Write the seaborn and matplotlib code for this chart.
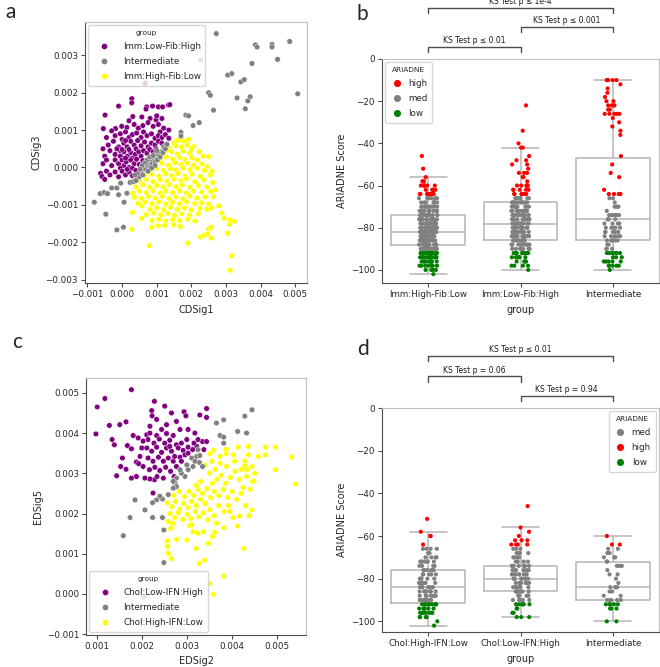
"""Recreate the four-panel CDSig/EDSig scatter and ARIADNE score box/strip figure."""

import matplotlib
matplotlib.use("Agg")
import matplotlib.pyplot as plt
import numpy as np
import pandas as pd
import seaborn as sns

# ---------------- panel a: CDSig1 vs CDSig3 (units of 1e-3) ----------------
a_low_fib_high = [
    (0.28, 1.84), (0.28, 1.73), (1.05, 1.62), (1.34, 1.67), (1.38, 1.68), (0.71, 1.62),
    (0.88, 1.64), (1.17, 1.62), (-0.10, 1.64), (0.69, 1.56), (-0.49, 1.40), (0.31, 1.36),
    (0.57, 1.35), (0.81, 1.31), (0.98, 1.27), (1.15, 1.31), (0.20, 1.25), (1.00, 1.38),
    (-0.54, 1.04), (-0.19, 1.04), (-0.01, 1.10), (0.14, 1.07), (0.35, 1.15), (0.47, 1.05),
    (0.60, 1.12), (0.75, 1.20), (0.90, 1.10), (1.05, 1.15), (1.20, 1.05), (1.35, 1.00),
    (1.10, 0.95), (-0.45, 0.80), (-0.20, 0.85), (-0.05, 0.90), (0.10, 0.95), (0.20, 0.80),
    (0.30, 0.88), (0.42, 0.92), (0.55, 0.80), (0.62, 0.95), (0.72, 0.85), (0.85, 0.90),
    (0.95, 0.78), (1.05, 0.85), (1.15, 0.80), (1.25, 0.88), (1.35, 0.78), (-0.30, 0.98),
    (0.00, 0.75), (-0.55, 0.50), (-0.40, 0.60), (-0.25, 0.70), (-0.10, 0.55), (0.05, 0.65),
    (0.15, 0.55), (0.25, 0.70), (0.35, 0.60), (0.45, 0.72), (0.55, 0.58), (0.65, 0.68),
    (0.75, 0.55), (0.85, 0.65), (0.95, 0.60), (1.05, 0.70), (1.15, 0.65), (1.25, 0.60),
    (0.40, 0.50), (0.10, 0.72), (-0.05, 0.45), (-0.50, 0.30), (-0.35, 0.45), (-0.20, 0.35),
    (-0.05, 0.30), (0.05, 0.42), (0.15, 0.30), (0.25, 0.40), (0.30, 0.25), (0.38, 0.35),
    (0.48, 0.42), (0.55, 0.30), (0.62, 0.45), (0.72, 0.38), (0.80, 0.48), (0.90, 0.42),
    (0.98, 0.50), (0.00, 0.48), (0.20, 0.48), (-0.15, 0.50), (-0.55, 0.10), (-0.45, 0.20),
    (-0.30, 0.05), (-0.20, 0.20), (-0.10, 0.10), (0.00, 0.20), (0.05, 0.05), (0.12, 0.15),
    (0.20, 0.00), (0.25, 0.20), (0.35, 0.10), (0.42, 0.22), (0.50, 0.08), (0.60, 0.18),
    (0.10, 0.25), (-0.05, -0.02), (0.30, -0.02), (-0.62, -0.16), (-0.58, -0.24),
    (-0.45, -0.10), (-0.35, -0.20), (-0.20, -0.12), (-0.10, -0.25), (0.00, -0.10),
    (0.10, -0.20), (0.20, -0.12), (0.30, -0.22), (0.40, -0.08), (0.45, -0.18),
    (-0.50, -0.32), (0.15, -0.05), (0.67, 2.25),
]
a_intermediate = [
    (2.72, 3.58), (2.27, 2.88), (3.85, 3.28), (3.90, 3.22), (4.33, 3.29), (4.33, 3.22),
    (4.84, 3.37), (4.49, 2.89), (5.07, 1.97), (3.75, 2.78), (3.05, 2.47), (3.17, 2.51),
    (3.43, 2.29), (3.53, 2.35), (2.50, 2.00), (2.55, 1.93), (3.32, 1.86), (3.70, 1.89),
    (3.63, 1.78), (3.56, 1.57), (2.64, 1.53), (1.84, 1.40), (1.92, 1.38), (2.23, 1.20),
    (2.05, 1.12), (1.70, 0.94), (1.70, 0.84), (1.29, 0.60), (1.24, 0.51),
    (-0.80, -0.93), (-0.63, -0.70), (-0.52, -0.67), (-0.42, -0.70), (-0.47, -1.25),
    (-0.30, -0.55), (-0.15, -0.55), (-0.10, -0.73), (0.14, -0.69), (0.06, -0.93),
    (-0.15, -1.67), (0.04, -1.60), (-0.04, -0.42), (0.23, -0.40), (0.33, -0.38),
    (0.50, -0.25), (0.55, -0.10), (0.60, -0.20), (0.62, 0.00), (0.68, -0.05), (0.70, 0.10),
    (0.75, 0.05), (0.78, 0.15), (0.82, 0.02), (0.85, 0.20), (0.88, 0.10), (0.92, 0.25),
    (0.95, 0.15), (1.00, 0.30), (1.02, 0.20), (1.05, 0.35), (1.10, 0.28), (1.12, 0.42),
    (1.18, 0.40), (1.20, 0.55), (1.25, 0.50), (1.30, 0.62), (0.72, 0.20), (0.65, 0.12),
    (0.80, 0.28), (0.90, 0.32), (0.58, 0.05), (0.52, -0.05), (1.00, 0.45), (0.95, 0.05),
    (0.85, -0.02), (0.75, -0.10), (0.40, -0.35), (0.38, -0.20),
]
a_high_fib_low = [
    (1.49, 0.66), (1.68, 0.75), (1.92, 0.75), (1.58, 0.72), (1.80, 0.70),
    (1.35, 0.52), (1.55, 0.58), (1.72, 0.55), (1.88, 0.60), (2.06, 0.56), (2.00, 0.48),
    (1.20, 0.38), (1.42, 0.42), (1.60, 0.36), (1.76, 0.44), (1.95, 0.38), (2.23, 0.42),
    (1.30, 0.46), (1.10, 0.24), (1.28, 0.28), (1.46, 0.22), (1.66, 0.27), (1.82, 0.21),
    (2.02, 0.26), (2.16, 0.20), (2.50, 0.29), (2.35, 0.30), (0.96, 0.08), (1.15, 0.12),
    (1.34, 0.06), (1.52, 0.13), (1.70, 0.08), (1.88, 0.12), (2.06, 0.06), (2.30, 0.10),
    (2.45, 0.02), (0.82, -0.05), (1.00, -0.02), (1.20, -0.08), (1.40, -0.03), (1.56, -0.07),
    (1.76, -0.02), (1.96, -0.06), (2.16, -0.02), (2.38, -0.08), (2.60, -0.10),
    (0.66, -0.22), (0.86, -0.18), (1.06, -0.24), (1.26, -0.17), (1.44, -0.22), (1.62, -0.16),
    (1.82, -0.23), (2.02, -0.18), (2.26, -0.24), (2.55, -0.20), (0.50, -0.36), (0.70, -0.32),
    (0.90, -0.38), (1.10, -0.33), (1.30, -0.37), (1.50, -0.31), (1.70, -0.36), (1.86, -0.30),
    (2.10, -0.38), (2.36, -0.33), (2.62, -0.40), (0.40, -0.52), (0.60, -0.47), (0.80, -0.53),
    (1.00, -0.48), (1.18, -0.52), (1.36, -0.46), (1.56, -0.51), (1.74, -0.47), (1.96, -0.53),
    (2.20, -0.48), (2.45, -0.52), (2.69, -0.60), (0.31, -0.69), (0.50, -0.63), (0.70, -0.67),
    (0.90, -0.62), (1.10, -0.68), (1.26, -0.63), (1.46, -0.67), (1.66, -0.62), (1.86, -0.68),
    (2.06, -0.63), (2.30, -0.66), (2.56, -0.64), (0.36, -0.80), (0.56, -0.83), (0.76, -0.78),
    (0.96, -0.82), (1.16, -0.77), (1.36, -0.83), (1.56, -0.79), (1.76, -0.84), (1.96, -0.77),
    (2.16, -0.82), (2.40, -0.79), (2.64, -0.78), (0.46, -0.96), (0.66, -0.93), (0.86, -0.97),
    (1.06, -0.92), (1.26, -0.98), (1.46, -0.93), (1.66, -0.97), (1.86, -0.92), (2.10, -0.97),
    (2.30, -0.94), (2.50, -0.98), (2.79, -1.03), (0.57, -1.03), (0.80, -1.12), (1.00, -1.08),
    (1.20, -1.13), (1.40, -1.07), (1.60, -1.12), (1.80, -1.08), (2.00, -1.13), (2.25, -1.10),
    (2.45, -1.12), (2.58, -1.08), (0.30, -1.20), (0.70, -1.26), (0.92, -1.22), (1.12, -1.27),
    (1.32, -1.23), (1.52, -1.28), (1.72, -1.24), (1.95, -1.28), (2.20, -1.24), (2.88, -1.22),
    (0.57, -1.36), (0.86, -1.42), (1.06, -1.38), (1.26, -1.43), (1.46, -1.39), (1.66, -1.42),
    (1.90, -1.38), (2.10, -1.43), (2.95, -1.36), (3.12, -1.40), (3.24, -1.44),
    (0.86, -1.60), (1.05, -1.56), (1.24, -1.55), (1.49, -1.53), (1.68, -1.58), (0.28, -1.65),
    (0.79, -2.09), (1.90, -2.02), (2.26, -1.86), (2.37, -1.81), (2.47, -1.78), (2.50, -1.65),
    (2.57, -1.60), (2.57, -1.89), (3.05, -1.76), (3.12, -2.75), (3.17, -2.36), (3.10, -1.52),
]

# ---------------- panel c: EDSig2 vs EDSig5 (units of 1e-3) ----------------
c_low_ifn_high = [
    (1.00, 4.65), (1.17, 4.86), (1.76, 5.08), (0.97, 3.98), (1.27, 4.19), (1.50, 4.21),
    (1.64, 4.28), (1.33, 3.84), (1.38, 3.71), (1.43, 2.94), (1.52, 3.17), (1.64, 3.10),
    (1.56, 3.38), (1.67, 3.69), (1.76, 3.61), (1.87, 3.28), (1.92, 3.24), (1.99, 3.63),
    (2.27, 4.79), (2.21, 4.56), (2.22, 4.43), (2.50, 4.67), (2.65, 4.50), (2.93, 4.53),
    (2.97, 4.43), (3.28, 4.45), (3.43, 4.61), (3.43, 4.39), (2.24, 2.51), (2.71, 2.92),
    (2.27, 2.84), (2.17, 2.86), (2.06, 2.88), (3.34, 3.79), (3.43, 3.79), (3.21, 3.67),
    (3.37, 3.59), (2.10, 3.96), (2.17, 4.00), (2.32, 3.94), (2.43, 4.09), (2.54, 3.99),
    (2.69, 3.94), (2.84, 4.09), (3.02, 4.09), (2.13, 3.84), (2.26, 3.75), (2.38, 3.85),
    (2.50, 3.75), (2.61, 3.82), (2.76, 3.71), (2.87, 3.75), (2.99, 3.84), (2.10, 3.63),
    (2.21, 3.55), (2.32, 3.65), (2.43, 3.52), (2.54, 3.63), (2.65, 3.55), (2.80, 3.63),
    (2.91, 3.57), (3.02, 3.65), (3.12, 3.59), (2.13, 3.38), (2.24, 3.30), (2.36, 3.40),
    (2.47, 3.30), (2.58, 3.38), (2.69, 3.30), (2.84, 3.40), (2.95, 3.46), (2.02, 3.17),
    (2.16, 3.09), (2.28, 3.15), (2.39, 3.07), (2.52, 3.15), (2.63, 3.05), (2.76, 3.17),
    (1.95, 3.42), (2.02, 3.80), (1.91, 3.88), (1.80, 3.94), (1.87, 2.92), (1.76, 2.88),
    (2.33, 2.92), (2.47, 2.88), (2.61, 3.67), (2.72, 3.42), (2.87, 3.30), (3.02, 3.50),
    (3.15, 3.75), (3.24, 3.84), (3.17, 4.00), (2.32, 4.34), (2.54, 4.21), (2.76, 4.29),
    (2.17, 4.17),
]
c_intermediate = [
    (4.12, 4.04), (4.32, 4.00), (4.28, 4.42), (4.44, 4.58), (3.65, 4.25), (3.81, 4.33),
    (3.73, 3.94), (3.81, 3.90), (3.81, 3.75), (3.10, 3.38), (3.21, 3.42), (3.27, 3.27),
    (3.34, 3.17), (3.13, 3.17), (3.02, 3.09), (2.95, 2.92), (2.87, 3.00), (2.76, 2.88),
    (2.73, 2.76), (2.76, 2.67), (2.69, 2.63), (2.58, 2.47), (2.45, 2.36), (2.32, 2.34),
    (2.23, 2.27), (2.06, 2.09), (1.84, 2.34), (2.23, 1.90), (2.45, 1.90), (1.73, 1.90),
    (1.58, 1.45), (2.48, 1.59), (2.48, 0.78), (2.04, -0.07), (3.17, 3.30), (3.28, 3.44),
    (2.99, 3.21), (2.84, 3.09), (3.24, 3.59), (2.69, 2.80), (2.39, 2.43),
]
c_high_ifn_low = [
    (2.56, 2.27), (2.66, 2.17), (2.74, 2.30), (2.83, 2.10), (2.92, 2.25), (3.02, 2.15),
    (3.10, 2.30), (3.20, 2.20), (3.30, 2.35), (3.40, 2.25), (2.62, 2.00), (2.72, 1.90),
    (2.80, 2.02), (2.90, 1.85), (3.00, 1.98), (3.08, 1.88), (3.18, 2.05), (3.26, 1.92),
    (3.36, 2.02), (3.46, 1.85), (2.70, 2.45), (2.82, 2.55), (2.94, 2.42), (3.04, 2.55),
    (3.14, 2.45), (3.24, 2.60), (3.34, 2.50), (3.44, 2.62), (3.52, 2.40), (3.60, 2.55),
    (3.70, 2.45), (3.80, 2.60), (3.90, 2.40), (4.00, 2.55), (4.10, 2.35), (4.20, 2.50),
    (3.56, 2.75), (3.66, 2.85), (3.76, 2.95), (3.86, 2.75), (3.96, 2.90), (4.06, 3.05),
    (4.16, 2.85), (4.24, 2.65), (3.50, 3.00), (3.62, 3.10), (3.40, 3.20), (3.55, 3.30),
    (3.30, 2.80), (3.20, 2.70), (2.58, 1.80), (2.68, 1.75), (3.05, 1.70), (3.50, 2.10),
    (3.60, 1.95), (3.70, 2.20), (3.82, 2.05), (3.92, 2.20), (4.02, 1.90), (4.30, 2.20),
    (4.45, 2.80), (4.50, 3.00), (4.40, 2.60), (4.28, 3.30), (4.20, 3.10), (4.05, 3.30),
    (5.41, 2.73), (5.32, 3.40), (4.96, 3.65), (4.96, 3.09), (4.74, 3.65), (4.74, 3.46),
    (4.58, 3.42), (4.44, 3.17), (4.48, 2.81), (4.36, 3.46), (4.36, 3.67), (4.13, 3.65),
    (4.32, 3.09), (4.32, 2.92), (4.28, 3.19), (3.87, 3.60), (3.86, 3.49), (4.02, 3.46),
    (3.73, 3.42), (3.58, 3.57), (3.50, 3.49), (3.73, 3.25), (3.87, 3.17), (4.37, 1.95),
    (4.44, 2.09), (4.26, 1.13), (4.12, 1.69), (4.16, 1.94), (3.95, 2.05), (3.81, 1.65),
    (3.65, 1.76), (3.61, 1.53), (3.47, 1.26), (3.56, 1.43), (3.39, 0.84), (3.27, 0.76),
    (3.81, 0.44), (3.50, 0.26), (3.58, -0.01), (2.56, 1.18), (2.58, 1.01), (2.65, 0.88),
    (2.56, 1.32), (2.63, 1.63), (2.76, 1.36), (2.99, 1.34), (3.20, 1.13), (3.13, 1.55),
    (3.24, 1.51), (3.36, 1.55), (3.10, 1.72),
]

# ---------------- panel b: ARIADNE scores (score value, number of samples) ----------------
b_groups = ["Imm:High-Fib:Low", "Imm:Low-Fib:High", "Intermediate"]
b1_scores = [-102, -100, -98, -96, -94, -92, -90, -88, -86, -84, -82, -80, -78, -76,
             -74, -72, -70, -68, -66, -64, -62, -60, -58, -56, -52, -46]
b1_counts = [1, 4, 8, 10, 14, 16, 16, 18, 20, 20, 20, 20, 18, 16,
             14, 12, 10, 8, 8, 10, 5, 6, 3, 1, 1, 1]
b2_scores = [-100, -98, -96, -94, -92, -90, -88, -86, -84, -82, -80, -78, -76, -74, -72, -70,
             -68, -66, -64, -62, -60, -58, -56, -54, -52, -50, -48, -46, -42, -40, -34, -22]
b2_counts = [1, 4, 4, 6, 10, 8, 10, 12, 12, 12, 12, 14, 12, 12, 10, 10,
             10, 8, 8, 5, 6, 1, 2, 3, 1, 2, 2, 1, 2, 1, 1, 1]
b3_scores = [-100, -98, -96, -94, -92, -90, -88, -86, -84, -82, -80, -78, -76, -74, -72, -70,
             -68, -66, -64, -62, -56, -54, -50, -46, -36, -34, -32, -30, -28, -26, -24, -22,
             -20, -18, -16, -14, -12, -10]
b3_counts = [1, 5, 5, 3, 7, 3, 2, 6, 5, 5, 5, 4, 4, 7, 1, 4,
             1, 2, 5, 1, 1, 1, 1, 1, 1, 1, 1, 1, 1, 5, 2, 4,
             2, 1, 1, 1, 1, 4]

# ---------------- panel d ----------------
d_groups = ["Chol:High-IFN:Low", "Chol:Low-IFN:High", "Intermediate"]
d1_scores = [-102, -100, -98, -96, -94, -92, -90, -88, -86, -84, -82, -80, -78, -76, -74,
             -72, -70, -68, -66, -64, -60, -58, -52]
d1_counts = [1, 1, 4, 7, 6, 9, 8, 9, 9, 8, 6, 5, 5, 6, 4, 7, 4, 2, 4, 1, 2, 1, 1]
d2_scores = [-98, -96, -94, -92, -90, -88, -86, -84, -82, -80, -78, -76, -74, -72, -70,
             -68, -66, -64, -62, -60, -58, -56, -46]
d2_counts = [3, 2, 2, 6, 5, 6, 7, 9, 8, 8, 9, 8, 9, 5, 4, 4, 3, 4, 3, 1, 1, 1, 1]
d3_scores = [-100, -94, -92, -90, -88, -86, -84, -82, -80, -78, -76, -74, -72, -70, -68,
             -66, -64, -60]
d3_counts = [2, 3, 5, 5, 2, 2, 4, 1, 1, 2, 1, 3, 2, 3, 2, 2, 2, 1]

b_tests = [(0, 1, "KS Test p \u2264 0.01", 5.8), (1, 2, "KS Test p \u2264 0.001", 15.3),
           (0, 2, "KS Test p \u2264 1e-4", 24.0)]
d_tests = [(0, 2, "KS Test p \u2264 0.01", 24.2), (0, 1, "KS Test p = 0.06", 14.8),
           (1, 2, "KS Test p = 0.94", 5.8)]

ARIADNE_COLORS = {"high": "red", "med": "grey", "low": "green"}


def scatter_frame(named_points):
    rows = []
    for name, pts in named_points:
        for x, y in pts:
            rows.append((name, x / 1000, y / 1000))
    return pd.DataFrame(rows, columns=["group", "x", "y"])


def score_frame(groups, scores_list, counts_list):
    parts = []
    for name, scores, counts in zip(groups, scores_list, counts_list):
        vals = np.repeat(scores, counts)
        parts.append(pd.DataFrame({"group": name, "score": vals}))
    df = pd.concat(parts, ignore_index=True)
    df["ARIADNE"] = np.where(df["score"] >= -64, "high",
                             np.where(df["score"] <= -92, "low", "med"))
    return df


def style_spines(ax):
    for side in ["left", "bottom"]:
        ax.spines[side].set_color("0.3")
    for side in ["top", "right"]:
        ax.spines[side].set_color("0.75")
    for sp in ax.spines.values():
        sp.set_linewidth(0.8)
    ax.tick_params(length=3, width=0.8, color="0.3", pad=2)


def draw_scatter(ax, df, order, xcol, ycol, loc):
    palette = {order[0]: "purple", order[1]: "grey", order[2]: "yellow"}
    sns.scatterplot(data=df, x="x", y="y", hue="group", hue_order=order, palette=palette,
                    s=16, edgecolor="white", linewidth=0.3, ax=ax)
    ax.set_xlabel(xcol)
    ax.set_ylabel(ycol, labelpad=3)
    sns.move_legend(ax, loc, title="group", fontsize=6.3, title_fontsize=5.3,
                    markerscale=1.1, borderpad=0.55, labelspacing=0.68,
                    handlelength=2.5, handletextpad=0.9, framealpha=0.8,
                    borderaxespad=0.35)
    style_spines(ax)


def draw_box(ax, df, order, hue_order, tests, loc, ylim_low):
    sns.stripplot(data=df, x="group", y="score", hue="ARIADNE", hue_order=hue_order,
                  order=order, palette=ARIADNE_COLORS, size=3, jitter=0.1,
                  linewidth=0, ax=ax)
    sns.boxplot(data=df, x="group", y="score", order=order, fill=False, color="#b5b5b5",
                showfliers=False, linewidth=1.1, width=0.8, ax=ax)
    ax.set_ylim(ylim_low, 0)
    ax.set_xlim(-0.5, 2.5)
    ax.set_yticks([0, -20, -40, -60, -80, -100])
    ax.set_xlabel("group")
    ax.set_ylabel("ARIADNE Score", labelpad=3)
    sns.move_legend(ax, loc, title="ARIADNE", fontsize=6.3, title_fontsize=5.3,
                    markerscale=1.7, borderpad=0.55, labelspacing=0.7,
                    handlelength=1.6, handletextpad=0.5, framealpha=0.8,
                    borderaxespad=0.35)
    for x0, x1, text, y in tests:
        ax.plot([x0, x0, x1, x1], [y - 2.4, y, y, y - 2.4], color="0.3", lw=1.0,
                clip_on=False)
        ax.text((x0 + x1) / 2, y + 0.9, text, ha="center", va="bottom", fontsize=5.5,
                color="0.1", clip_on=False)
    style_spines(ax)


sns.set_style("white")
plt.rcParams.update({
    "font.family": ["DejaVu Sans"],
    "xtick.labelsize": 6.3,
    "ytick.labelsize": 6.3,
    "axes.labelsize": 7,
    "xtick.bottom": True,
    "ytick.left": True,
})

W, H = 660, 667
fig = plt.figure(figsize=(W / 100, H / 100), dpi=100)


def px_axes(left, top, right, bottom):
    return fig.add_axes([left / W, 1 - bottom / H, (right - left) / W, (bottom - top) / H])


ax_a = px_axes(85, 22, 307, 283)
ax_b = px_axes(382, 59, 659, 283)
ax_c = px_axes(86, 378, 306, 635)
ax_d = px_axes(382, 408, 659, 632)

# panel a
a_order = ["Imm:Low-Fib:High", "Intermediate", "Imm:High-Fib:Low"]
a_df = scatter_frame([(a_order[0], a_low_fib_high), (a_order[2], a_high_fib_low),
                      (a_order[1], a_intermediate)])
draw_scatter(ax_a, a_df, a_order, "CDSig1", "CDSig3", "upper left")
ax_a.set_xlim(-0.00107, 0.00534)
ax_a.set_ylim(-0.00309, 0.00389)
ax_a.set_xticks([-0.001, 0.0, 0.001, 0.002, 0.003, 0.004, 0.005])
ax_a.set_yticks([-0.003, -0.002, -0.001, 0.0, 0.001, 0.002, 0.003])

# panel c
c_order = ["Chol:Low-IFN:High", "Intermediate", "Chol:High-IFN:Low"]
c_df = scatter_frame([(c_order[0], c_low_ifn_high), (c_order[2], c_high_ifn_low),
                      (c_order[1], c_intermediate)])
draw_scatter(ax_c, c_df, c_order, "EDSig2", "EDSig5", "lower left")
ax_c.set_xlim(0.00075, 0.00564)
ax_c.set_ylim(-0.00102, 0.00537)
ax_c.set_xticks([0.001, 0.002, 0.003, 0.004, 0.005])
ax_c.set_yticks([-0.001, 0.0, 0.001, 0.002, 0.003, 0.004, 0.005])

# panel b
b_df = score_frame(b_groups, [b1_scores, b2_scores, b3_scores], [b1_counts, b2_counts, b3_counts])
draw_box(ax_b, b_df, b_groups, ["high", "med", "low"], b_tests, "upper left", -106.2)

# panel d
d_df = score_frame(d_groups, [d1_scores, d2_scores, d3_scores], [d1_counts, d2_counts, d3_counts])
draw_box(ax_d, d_df, d_groups, ["med", "high", "low"], d_tests, "upper right", -105)

for label, x, y in [("a", 5, 18), ("b", 357, 20), ("c", 12, 348), ("d", 357, 355)]:
    fig.text(x / W, 1 - y / H, label, fontsize=15, family="Lato", va="baseline")

fig.savefig("out.png", dpi=100)
plt.close(fig)
